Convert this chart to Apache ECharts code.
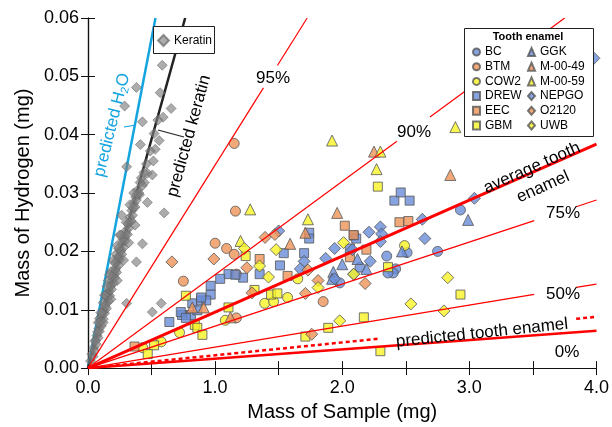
<!DOCTYPE html>
<html><head><meta charset="utf-8">
<script src="https://cdn.jsdelivr.net/npm/echarts@6/dist/echarts.min.js"></script>
<style>html,body{margin:0;padding:0;background:#fff}#c{width:612px;height:427px}</style>
</head><body><div id="c"></div>
<script>
// ---------- DATA ----------
const xTickLabels = ['0.0','1.0','2.0','3.0','4.0'];
const yTickLabels = ['0.00','0.01','0.02','0.03','0.04','0.05','0.06'];

const keratin = [
 [0.584,0.0519],[0.381,0.0481],[0.568,0.0472],[0.288,0.0449],[0.654,0.0445],[0.591,0.0430],[0.428,0.0422],
 [0.560,0.0390],[0.412,0.0383],[0.529,0.0375],[0.514,0.0355],[0.304,0.0345],[0.467,0.0334],[0.506,0.0331],
 [0.443,0.0318],[0.428,0.0313],[0.405,0.0297],[0.467,0.0284],[0.599,0.0266],[0.265,0.0262],[0.428,0.0213],
 [0.381,0.0182],[0.304,0.0111],[0.576,0.0111],[0.506,0.0096],
 [0.02,0.0012],[0.03,0.0024],[0.04,0.0020],[0.045,0.0035],[0.05,0.0030],[0.06,0.0048],[0.065,0.0041],
 [0.07,0.0056],[0.08,0.0052],[0.085,0.0068],[0.09,0.0063],[0.10,0.0080],[0.105,0.0072],[0.11,0.0090],
 [0.12,0.0084],[0.125,0.0100],[0.13,0.0094],[0.14,0.0110],[0.145,0.0102],[0.15,0.0122],[0.16,0.0115],
 [0.165,0.0132],[0.17,0.0124],[0.18,0.0142],[0.185,0.0135],[0.19,0.0150],[0.20,0.0146],[0.205,0.0162],
 [0.21,0.0155],[0.22,0.0172],[0.225,0.0164],[0.23,0.0183],[0.24,0.0176],[0.245,0.0192],[0.25,0.0186],
 [0.26,0.0203],[0.265,0.0195],[0.27,0.0214],[0.28,0.0207],[0.285,0.0225],[0.29,0.0218],[0.30,0.0236],
 [0.31,0.0229],[0.315,0.0247],[0.32,0.0240],[0.33,0.0258],[0.34,0.0252],[0.345,0.0270],[0.35,0.0262],
 [0.36,0.0282],[0.37,0.0276],[0.375,0.0293],[0.38,0.0288],[0.39,0.0305],[0.40,0.0300],[0.41,0.0318],
 [0.42,0.0326],[0.16,0.0150],[0.12,0.0112],[0.22,0.0195],[0.26,0.0228],[0.09,0.0085],[0.33,0.0280],[0.18,0.0165],
 [0.055,0.0046],[0.075,0.0062],[0.095,0.0078],[0.115,0.0095],[0.135,0.0106],[0.155,0.0128],[0.175,0.0140],
 [0.195,0.0158],[0.215,0.0168],[0.235,0.0188],[0.255,0.0200],[0.275,0.0220],[0.295,0.0230],[0.325,0.0250],
 [0.355,0.0275],[0.385,0.0298],[0.44,0.0335],[0.46,0.0350],[0.49,0.0372],[0.52,0.0402],[0.55,0.0425],
 [0.14,0.0125],[0.24,0.0205],[0.30,0.0250],[0.36,0.0300],[0.21,0.0180],
 [0.08,0.0078],[0.10,0.0095],[0.13,0.0125],[0.15,0.0140],[0.17,0.0160],[0.20,0.0185],[0.23,0.0210],[0.25,0.0228],
 [0.12,0.0078],[0.18,0.0118],[0.23,0.0150],[0.28,0.0185],[0.32,0.0215],[0.37,0.0245]
];

const BC = [[1.98,0.0146],[2.35,0.0192],[2.51,0.0198],[2.75,0.0200],[2.14,0.0173],[2.42,0.0170],[2.40,0.0163],[2.93,0.0271],[2.36,0.0163]];
const BTM = [[1.15,0.0385],[1.16,0.0269],[1.00,0.0214],[1.09,0.0205],[1.15,0.0195],[0.75,0.0149],[1.167,0.0161],[1.85,0.0114],[1.167,0.0086]];
const COW2 = [[1.65,0.0153],[1.57,0.0121],[1.39,0.0111],[1.46,0.0114],[1.08,0.0082],[0.72,0.0061],[0.43,0.0035],[0.576,0.0045],[2.49,0.0210]];
const DREW = [[1.54,0.0197],[1.74,0.0232],[1.74,0.0222],[1.70,0.0197],[2.09,0.0227],[1.51,0.0176],[1.22,0.0155],[1.35,0.0161],
 [2.41,0.0287],[2.53,0.0287],[2.46,0.0301],[2.11,0.0222],[1.105,0.0161],[1.16,0.0160],[1.04,0.0153],[0.965,0.0141],
 [0.965,0.0126],[0.82,0.0111],[0.89,0.0116],[0.93,0.0116],[0.89,0.0121],[0.74,0.0091],[0.81,0.0091],[0.86,0.0099],
 [0.64,0.0079],[0.73,0.0096],[0.77,0.0086],[2.06,0.0205]];
const EEC = [[2.02,0.0244],[2.45,0.0250],[2.52,0.0252],[2.09,0.0228],[2.19,0.0203],[2.06,0.0190],[1.35,0.0187],[1.57,0.0158],[0.366,0.0037]];
const GBM = [[2.28,0.0311],[1.24,0.0192],[1.31,0.0134],[1.44,0.0126],[1.49,0.0128],[2.36,0.0173],[2.17,0.0087],[1.89,0.0069],
 [2.30,0.0029],[2.93,0.0126],[0.77,0.0124],[1.105,0.0104],[0.84,0.0074],[0.86,0.0069],[0.90,0.0057],[1.71,0.0054],[0.52,0.0039],[0.47,0.0024]];
const GGK = [[2.00,0.0178],[1.93,0.0165],[2.12,0.0187],[2.19,0.0170],[1.92,0.0153],[2.47,0.0200],[2.99,0.0254]];
const M0049 = [[1.96,0.0266],[1.59,0.0213],[1.71,0.0232],[2.25,0.0371],[2.85,0.0331],[0.82,0.0104],[0.91,0.0104],[1.12,0.0087]];
const M0059 = [[1.276,0.0272],[1.20,0.0218],[1.73,0.0255],[1.92,0.0390],[2.30,0.0371],[2.27,0.0341],[2.89,0.0413]];
const NEPGO = [[1.50,0.0235],[1.94,0.0205],[1.87,0.0188],[1.70,0.0183],[1.67,0.0170],[1.94,0.0153],[2.09,0.0161],[2.63,0.0255],
 [2.21,0.0233],[2.30,0.0242],[2.31,0.0230],[2.30,0.0217],[2.65,0.0222],[2.08,0.0203],[2.22,0.0183],[3.04,0.0291],[3.98,0.0531]];
const O2120 = [[1.393,0.0224],[1.47,0.0229],[1.25,0.0172],[1.81,0.0150],[1.73,0.0168],[1.29,0.0129],[1.71,0.0128],[2.18,0.0145],
 [0.99,0.0187],[0.66,0.0182],[1.76,0.0058]];
const UWB = [[1.23,0.0205],[1.48,0.0203],[2.01,0.0215],[1.35,0.0175],[1.42,0.0156],[1.81,0.0138],[2.09,0.0161],[2.83,0.0155],
 [2.54,0.0110],[2.80,0.0098],[1.98,0.0081]];

const enamelNames = ['BC','BTM','COW2','DREW','EEC','GBM','GGK','M-00-49','M-00-59','NEPGO','O2120','UWB'];
const enamelData = [BC,BTM,COW2,DREW,EEC,GBM,GGK,M0049,M0059,NEPGO,O2120,UWB];

// reference lines: mass of H per mass of sample
const lineNames = ['predicted H2O','predicted keratin','95%','90%','average tooth enamel','75%','50%','predicted tooth enamel','0%'];
const lineSlopes = [0.113,0.0785,0.0348,0.016,0.0096,0.0072,0.0036,0.0022,0.0016];

// ---------- STYLE ----------
const BLUE='#6a8dd8', ORANGE='#ef9359', YELLOW='#f7f225';
const enamelColor = [BLUE,ORANGE,YELLOW,BLUE,ORANGE,YELLOW,BLUE,ORANGE,YELLOW,BLUE,ORANGE,YELLOW];
const enamelSymbol = ['circle','circle','circle','rect','rect','rect','triangle','triangle','triangle','diamond','diamond','diamond'];
const enamelSize = [10,10,10,9,9,9,11,11,11,12,12,12];
const lineStyleCfg = {
 'predicted H2O':{color:'#14a4e0',width:2.5,type:'solid',gaps:[]},
 'predicted keratin':{color:'#222',width:2.5,type:'solid',gaps:[]},
 '95%':{color:'#ff0000',width:1.2,type:'solid',gaps:[[1.38,1.49]]},
 '90%':{color:'#ff0000',width:1.2,type:'solid',gaps:[[2.43,2.69]]},
 'average tooth enamel':{color:'#ff0000',width:3,type:'solid',gaps:[]},
 '75%':{color:'#ff0000',width:1.2,type:'solid',gaps:[[3.51,3.84]]},
 '50%':{color:'#ff0000',width:1.2,type:'solid',gaps:[[3.51,3.84]]},
 'predicted tooth enamel':{color:'#ff0000',width:2.5,type:[4,3],gaps:[[2.28,3.84]]},
 '0%':{color:'#ff0000',width:2.5,type:'solid',gaps:[]}
};
const FONT = '"Liberation Sans", Arial, sans-serif';

const series = [];
lineNames.forEach((nm,i)=>{
  const s = lineSlopes[i];
  const xEnd = Math.min(4, 0.06/s);
  const cfg = lineStyleCfg[nm];
  let segs = [], x0 = 0;
  cfg.gaps.forEach(g=>{ segs.push([x0,g[0]]); x0 = g[1]; });
  segs.push([x0,xEnd]);
  segs.forEach(sg=>{
    series.push({type:'line', name:nm, data:[[sg[0],s*sg[0]],[sg[1],s*sg[1]]], symbol:'none',
      lineStyle:{color:cfg.color,width:cfg.width,type:cfg.type}, z: (nm==='predicted H2O'||nm==='predicted keratin')?2:5,
      silent:true, clip:true});
  });
});
series.push({type:'scatter', name:'Keratin', data:keratin, symbol:'diamond', symbolSize:10,
  itemStyle:{color:'rgba(125,125,125,0.8)', borderColor:'rgba(100,100,100,0.85)', borderWidth:0.8}, z:3});
enamelNames.forEach((nm,i)=>{
  series.push({type:'scatter', name:nm, data:enamelData[i], symbol:enamelSymbol[i], symbolSize:enamelSize[i],
    itemStyle:{color:enamelColor[i], borderColor:'#555', borderWidth:1}, z:4});
});

function txt(t,x,y,rotDeg,size,color){
  return {type:'text', x:x, y:y, rotation:(rotDeg||0)*Math.PI/180, z:100,
    style:{text:t, x:0, y:0, align:'center', verticalAlign:'middle', fontSize:size||17, fontFamily:FONT, fill:color||'#000'}};
}

const option = {
  animation:false,
  backgroundColor:'#fff',
  grid:{left:88,right:9,top:18,bottom:55},
  xAxis:[
    {type:'value',min:0,max:4,interval:0.5,position:'bottom',
     axisLine:{lineStyle:{color:'#111',width:1.2}},
     axisTick:{inside:true,length:7,lineStyle:{color:'#111'}},
     axisLabel:{fontSize:18,color:'#000',fontFamily:FONT,margin:11,
       formatter:v=>{const k=Math.round(v*2); return k%2===0? xTickLabels[k/2] : '';}},
     splitLine:{show:false},
     name:'Mass of Sample (mg)',nameLocation:'middle',nameGap:29,
     nameTextStyle:{fontSize:20,color:'#000',fontFamily:FONT}},
    {type:'value',min:0,max:4,interval:0.5,position:'top',
     axisLine:{lineStyle:{color:'#111',width:1.2}},
     axisTick:{inside:true,length:7,lineStyle:{color:'#111'}},
     axisLabel:{show:false},splitLine:{show:false}}
  ],
  yAxis:[
    {type:'value',min:0,max:0.06,interval:0.01,position:'left',
     axisLine:{show:true,lineStyle:{color:'#111',width:1.2}},
     axisTick:{show:true,inside:true,length:7,lineStyle:{color:'#111'}},
     axisLabel:{fontSize:18,color:'#000',fontFamily:FONT,margin:9,
       formatter:v=>yTickLabels[Math.round(v*100)]},
     splitLine:{show:false},
     name:'Mass of Hydrogen (mg)',nameLocation:'middle',nameGap:55,
     nameTextStyle:{fontSize:20,color:'#000',fontFamily:FONT}},
    {type:'value',min:0,max:0.06,interval:0.01,position:'right',
     axisLine:{show:true,lineStyle:{color:'#111',width:1.2}},
     axisTick:{show:true,inside:true,length:7,lineStyle:{color:'#111'}},
     axisLabel:{show:false},splitLine:{show:false}}
  ],
  legend:[
    {data:['Keratin'],orient:'vertical',left:157,top:34,itemWidth:11,itemHeight:11,padding:0,
     textStyle:{fontSize:12,color:'#000',fontFamily:FONT},z:60},
    {data:enamelNames.slice(0,6),orient:'vertical',left:472,top:46,itemWidth:7,itemHeight:8,itemGap:2.7,padding:0,
     textStyle:{fontSize:12,color:'#000',fontFamily:FONT},z:60},
    {data:enamelNames.slice(6),orient:'vertical',left:527,top:46,itemWidth:7,itemHeight:8,itemGap:2.7,padding:0,
     textStyle:{fontSize:12,color:'#000',fontFamily:FONT},z:60}
  ],
  graphic:[
    {type:'rect',shape:{x:153.5,y:26.5,width:61,height:27},style:{fill:'#fff',stroke:'#222',lineWidth:1},z:50},
    {type:'rect',shape:{x:464.5,y:28.5,width:129,height:108},style:{fill:'#fff',stroke:'#222',lineWidth:1},z:50},
    {type:'text',x:528,y:37,z:100,style:{text:'Tooth enamel',x:0,y:0,align:'center',verticalAlign:'middle',fontSize:11,fontWeight:'bold',fontFamily:FONT,fill:'#000'}},
    txt('95%',273,78,0,17),
    txt('90%',414,132,0,17),
    txt('75%',563,213,0,17),
    txt('50%',563,294,0,17),
    txt('0%',567,352,0,17),
    txt('average tooth',532,168,24,17),
    txt('enamel',543,187,24,17),
    txt('predicted tooth enamel',482,333,6,17),
    txt('predicted keratin',189,136,74.5,17),
    {type:'line',shape:{x1:158,y1:130,x2:184,y2:137},style:{stroke:'#222',lineWidth:1.2},z:100},
    {type:'line',shape:{x1:124,y1:127,x2:136,y2:125},style:{stroke:'#14a4e0',lineWidth:1.2},z:100},
    {type:'text',x:112,y:125,rotation:76*Math.PI/180,z:100,
     style:{text:'{a|predicted H}{b|2}{a|O}',x:0,y:0,align:'center',verticalAlign:'middle',fill:'#14a4e0',fontFamily:FONT,fontSize:17,
       rich:{a:{fontSize:17,fill:'#14a4e0',fontFamily:FONT,lineHeight:20},
             b:{fontSize:11,fill:'#14a4e0',fontFamily:FONT,lineHeight:20,verticalAlign:'bottom',padding:[8,0,0,0]}}}}
  ],
  series:series
};
const chart = echarts.init(document.getElementById('c'),null,{renderer:'canvas'});
chart.setOption(option);
</script></body></html>
